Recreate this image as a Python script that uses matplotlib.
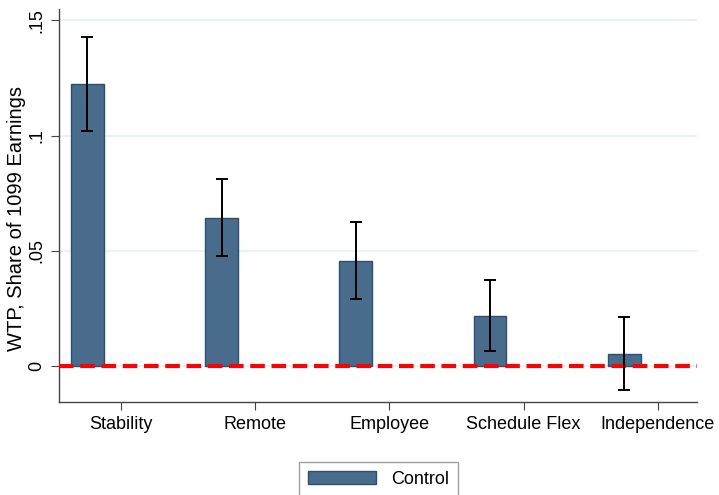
import numpy as np
import matplotlib.pyplot as plt

plt.rcParams['font.family'] = ['Liberation Sans', 'DejaVu Sans']

# WTP estimates (share of 1099 earnings) with 95% CI bounds
categories = ['Stability', 'Remote', 'Employee', 'Schedule Flex', 'Independence']
wtp = [0.1222, 0.0643, 0.0456, 0.0216, 0.0049]
ci_low = [0.1019, 0.0476, 0.0290, 0.0065, -0.0107]
ci_high = [0.1430, 0.0811, 0.0625, 0.0371, 0.0211]

yticks = [0, 0.05, 0.1, 0.15]
ytick_labels = ['0', '.05', '.1', '.15']

x = np.arange(len(categories))
bar_x = x - 0.25
wtp = np.array(wtp)
err = [wtp - np.array(ci_low), np.array(ci_high) - wtp]

fig = plt.figure(figsize=(7.19, 4.95), dpi=100)
ax = fig.add_axes([0.082, 0.1885, 0.887, 0.7935])

ax.set_axisbelow(True)
ax.grid(axis='y', color='#e8f0f1', lw=1.2)
ax.bar(bar_x, wtp, width=0.245, color='#4a6c8c', edgecolor='#2a4f72',
       lw=1, label='Control', zorder=2)
ax.errorbar(bar_x, wtp, yerr=err, fmt='none', ecolor='black', elinewidth=1.4,
            capsize=4, capthick=1.4, zorder=4)
ax.axhline(0, color='#ff0000', lw=3, linestyle=(0, (3.5, 1.6)), zorder=3)

ax.set_xlim(-0.462, 4.29)
ax.set_ylim(-0.0156, 0.155)
ax.set_xticks(x)
ax.set_xticklabels(categories, fontsize=13)
ax.set_yticks(yticks)
ax.set_yticklabels(ytick_labels, fontsize=13, rotation=90, va='center')
ax.set_ylabel('WTP, Share of 1099 Earnings', fontsize=14.5)
ax.yaxis.set_label_coords(-0.051, 0.4665)
ax.tick_params(length=6, color='#444444', pad=4)

for s in ['top', 'right']:
    ax.spines[s].set_visible(False)
for s in ['left', 'bottom']:
    ax.spines[s].set_color('#444444')
    ax.spines[s].set_linewidth(1)

fig.legend(loc='upper center', bbox_to_anchor=(0.526, 0.0667), fontsize=13,
           frameon=True, fancybox=False, edgecolor='#888888',
           handlelength=3.8, handleheight=0.7, borderpad=0.5,
           borderaxespad=0)

fig.savefig('out.png', dpi=100)
